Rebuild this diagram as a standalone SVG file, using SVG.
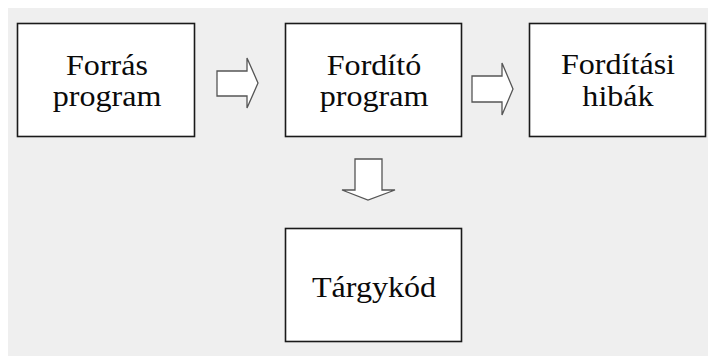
<svg xmlns="http://www.w3.org/2000/svg" width="708" height="356" viewBox="0 0 708 356">
<style>
.box{fill:#ffffff;stroke:#1a1a1a;stroke-width:1.6}
.arr{fill:#ffffff;stroke:#555555;stroke-width:1.3;stroke-linejoin:miter}
.t{font-family:"Liberation Serif","Times New Roman",serif;font-size:30px;fill:#0a0a0a;text-anchor:middle}
</style>
<rect x="0" y="0" width="708" height="356" fill="#ffffff"/>
<rect x="8" y="8" width="700" height="348" fill="#efefef"/>
<g id="connectors">
<path class="arr" d="M217,71 H247 V58 L258,83 L247,108 V96 H217 Z"/>
<path class="arr" d="M472,76 H502 V63 L513,89 L502,115 V102 H472 Z"/>
<path class="arr" d="M355,159 H382 V190 H395 L368,200 L342,190 H355 Z"/>
</g>
<g id="forras">
<rect class="box" x="17.5" y="23.5" width="177" height="113"/>
<text class="t" transform="translate(107,0) scale(1.07,1)" x="0" y="75">Forrás</text>
<text class="t" transform="translate(107,0) scale(1.07,1)" x="0" y="106">program</text>
</g>
<g id="fordito">
<rect class="box" x="285.5" y="23.5" width="176" height="113"/>
<text class="t" transform="translate(374,0) scale(1.07,1)" x="0" y="75">Fordító</text>
<text class="t" transform="translate(374,0) scale(1.07,1)" x="0" y="106">program</text>
</g>
<g id="hibak">
<rect class="box" x="529.5" y="23.5" width="176" height="113"/>
<text class="t" transform="translate(618,0) scale(1.07,1)" x="0" y="74">Fordítási</text>
<text class="t" transform="translate(618,0) scale(1.07,1)" x="0" y="106">hibák</text>
</g>
<g id="targykod">
<rect class="box" x="285.5" y="228.5" width="176" height="113"/>
<text class="t" transform="translate(374,0) scale(1.07,1)" x="0" y="297">Tárgykód</text>
</g>
</svg>
